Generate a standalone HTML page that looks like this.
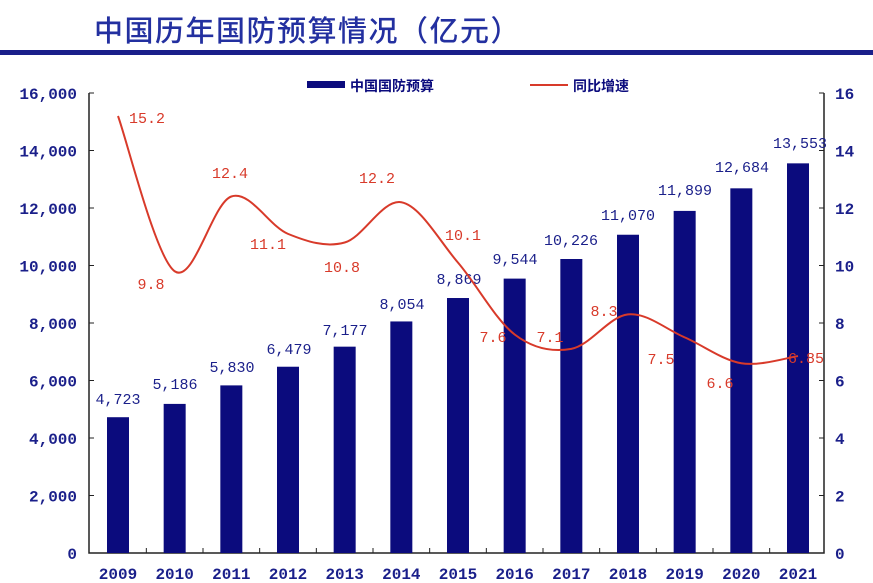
<!DOCTYPE html>
<html><head><meta charset="utf-8"><style>
html,body{margin:0;padding:0;background:#fff;}
svg{display:block;}
text{font-family:"Liberation Mono","Noto Serif CJK SC",monospace;}
</style></head><body>
<svg id="s" width="873" height="583" xmlns="http://www.w3.org/2000/svg">
<text x="94" y="41" font-size="29" fill="#2330a0" letter-spacing="1.5" style="font-family:'Liberation Sans','Noto Sans CJK SC',sans-serif;font-weight:500">中国历年国防预算情况（亿元）</text>
<rect x="0" y="50" width="873" height="5" fill="#1a1f8a"/>
<rect x="307" y="81" width="38" height="7" fill="#0b0b7d"/>
<text x="350" y="91" font-size="14" font-weight="bold" fill="#0b0b7d" style="font-family:'Liberation Sans','Noto Sans CJK SC',sans-serif">中国国防预算</text>
<line x1="530" y1="85" x2="568" y2="85" stroke="#d83a2a" stroke-width="2"/>
<text x="573" y="91" font-size="14" font-weight="bold" fill="#0b0b7d" style="font-family:'Liberation Sans','Noto Sans CJK SC',sans-serif">同比增速</text>
<g id="g"></g>
</svg>
<script>
var g=document.getElementById('g'),h='';
var L=89,R=824,B=553,T=93,k=(B-T)/16;
h+='<path d="M'+L+' '+T+'V'+B+'H'+R+'V'+T+'" fill="none" stroke="#222" stroke-width="1.5"/>';
for(var i=0;i<=8;i++){var y=B-i*2*k;
h+='<line x1="'+L+'" y1="'+y+'" x2="'+(L+5)+'" y2="'+y+'" stroke="#222"/>';
h+='<line x1="'+(R-5)+'" y1="'+y+'" x2="'+R+'" y2="'+y+'" stroke="#222"/>';
h+='<text x="77" y="'+(y+6)+'" font-size="16" font-weight="bold" fill="#1a1f8a" text-anchor="end">'+(i==0?'0':(i*2)+',000')+'</text>';
h+='<text x="835" y="'+(y+6)+'" font-size="16" font-weight="bold" fill="#1a1f8a">'+(i*2)+'</text>';}
var v=[4723,5186,5830,6479,7177,8054,8869,9544,10226,11070,11899,12684,13553];
var r=[15.2,9.8,12.4,11.1,10.8,12.2,10.1,7.6,7.1,8.3,7.5,6.6,6.85];
var lp=[[147,117],[151,283],[230,172],[268,243],[342,266],[377,177],[463,234],[493,336],[550,336],[604,310],[661,358],[720,382],[806,357]];
var bl=[[118,398],[175,383],[232,366],[289,348],[345,329],[402,303],[459,278],[515,258],[571,239],[628,214],[685,189],[742,166],[800,142]];
var sp=(798-118)/12;
for(var i=0;i<13;i++){var cx=118+i*sp,y=B-v[i]/1000*k;
h+='<rect x="'+(cx-11)+'" y="'+y+'" width="22" height="'+(B-y)+'" fill="#0b0b7d"/>';
if(i<12)h+='<line x1="'+(cx+sp/2)+'" y1="'+B+'" x2="'+(cx+sp/2)+'" y2="'+(B-5)+'" stroke="#222"/>';
h+='<text x="'+cx+'" y="579" font-size="16" font-weight="bold" fill="#1a1f8a" text-anchor="middle">'+(2009+i)+'</text>';
h+='<text x="'+bl[i][0]+'" y="'+(bl[i][1]+6)+'" font-size="15" fill="#1a1f8a" text-anchor="middle">'+v[i].toLocaleString('en-US')+'</text>';
h+='<text x="'+lp[i][0]+'" y="'+(lp[i][1]+6)+'" font-size="15" fill="#d83a2a" text-anchor="middle">'+r[i]+'</text>';}
var P=r.map(function(t,i){return [118+i*sp,B-t*k];});
var d='M'+P[0][0]+' '+P[0][1];
for(var i=0;i<12;i++){var p0=P[i>0?i-1:0],p1=P[i],p2=P[i+1],p3=P[i<11?i+2:12];
d+='C'+(p1[0]+(p2[0]-p0[0])/6)+' '+(p1[1]+(p2[1]-p0[1])/6)+','+(p2[0]-(p3[0]-p1[0])/6)+' '+(p2[1]-(p3[1]-p1[1])/6)+','+p2[0]+' '+p2[1];}
h+='<path d="'+d+'" fill="none" stroke="#d83a2a" stroke-width="2"/>';
g.innerHTML=h;
</script>
</body></html>
